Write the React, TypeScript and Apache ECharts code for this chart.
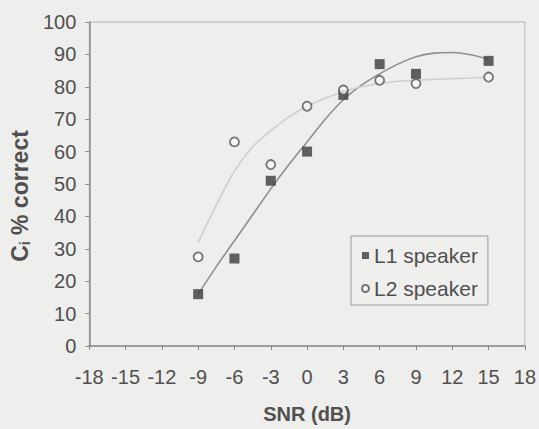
import React, { useEffect, useRef } from "react";
import * as echarts from "echarts";

const snrValues = [-9, -6, -3, 0, 3, 6, 9, 15];
const l1Values = [16, 27, 51, 60, 77.5, 87, 84, 88];
const l2Values = [27.5, 63, 56, 74, 79, 82, 81, 83];

const trendX = [-9, -7.5, -6, -4.5, -3, -1.5, 0, 1.5, 3, 4.5, 6, 7.5, 9, 10.5, 12, 13.5, 15];
const l1Trend = [16, 24.5, 32.5, 40.5, 48.5, 56, 63, 70, 76, 80.5, 84, 87, 89.3, 90.4, 90.6, 89.9, 88.5];
const l2Trend = [32, 43.5, 54, 61.5, 66.5, 70.7, 74, 76.5, 78.5, 80, 81, 81.7, 82, 82.3, 82.5, 82.7, 83];

const seriesNames = ["L1 speaker", "L2 speaker"];

const TEXT = "#505050";
const FONT = "Liberation Sans, Arial, sans-serif";

export default function App() {
  const ref = useRef<HTMLDivElement>(null);
  useEffect(() => {
    if (!ref.current) return;
    const chart = echarts.init(ref.current, undefined, { renderer: "svg" });
    const zip = (xs: number[], ys: number[]) => xs.map((x, i) => [x, ys[i]]);
    chart.setOption({
      animation: false,
      backgroundColor: "#eeeeec",
      textStyle: { fontFamily: FONT, color: TEXT },
      grid: {
        left: 86,
        right: 12,
        top: 22,
        bottom: 80,
        show: true,
        borderColor: "#b5b5b5",
        borderWidth: 1,
        backgroundColor: "transparent",
      },
      legend: {
        orient: "vertical",
        left: 351,
        top: 236,
        padding: [9, 10, 6, 10],
        itemGap: 12,
        itemWidth: 7,
        itemHeight: 7,
        itemTextGap: 6,
        borderColor: "#9a9a9a",
        borderWidth: 1,
        backgroundColor: "#efefed",
        textStyle: { fontSize: 21, color: TEXT, fontFamily: FONT },
        data: [
          { name: seriesNames[0], icon: "rect" },
          { name: seriesNames[1], icon: "circle" },
        ],
      },
      xAxis: {
        type: "value",
        min: -18,
        max: 18,
        interval: 3,
        name: "SNR (dB)",
        nameLocation: "middle",
        nameGap: 58,
        nameTextStyle: { fontSize: 20, fontWeight: "bold", color: TEXT, fontFamily: FONT },
        axisLine: { show: true, onZero: false, lineStyle: { color: "#8a8a8a", width: 1.5 } },
        axisTick: { show: true, length: 4, lineStyle: { color: "#8a8a8a" } },
        axisLabel: { fontSize: 20, margin: 21, color: TEXT, fontFamily: FONT },
        splitLine: { show: false },
      },
      yAxis: {
        type: "value",
        min: 0,
        max: 100,
        interval: 10,
        name: "{a|C}{b|i}{a| % correct}",
        nameLocation: "middle",
        nameGap: 56,
        nameTextStyle: {
          fontSize: 23,
          fontWeight: "bold",
          color: TEXT,
          fontFamily: FONT,
          padding: [0, 24, 0, 0],
          rich: {
            a: { fontSize: 23, fontWeight: "bold", color: TEXT, fontFamily: FONT },
            b: {
              fontSize: 14,
              fontWeight: "bold",
              color: TEXT,
              fontFamily: FONT,
              verticalAlign: "bottom",
              padding: [11, 0, 0, 0],
            },
          },
        },
        axisLine: { show: true, onZero: false, lineStyle: { color: "#8a8a8a", width: 1.5 } },
        axisTick: { show: true, length: 4, lineStyle: { color: "#8a8a8a" } },
        axisLabel: { fontSize: 20, margin: 13, color: TEXT, fontFamily: FONT },
        splitLine: { show: false },
      },
      series: [
        {
          name: "L1 trend",
          type: "line",
          data: zip(trendX, l1Trend),
          smooth: 0.25,
          showSymbol: false,
          symbol: "none",
          lineStyle: { color: "#8f8f8f", width: 1.6 },
          z: 2,
          silent: true,
        },
        {
          name: "L2 trend",
          type: "line",
          data: zip(trendX, l2Trend),
          smooth: 0.25,
          showSymbol: false,
          symbol: "none",
          lineStyle: { color: "#cfcfcf", width: 1.6 },
          z: 2,
          silent: true,
        },
        {
          name: seriesNames[0],
          type: "scatter",
          data: zip(snrValues, l1Values),
          symbol: "rect",
          symbolSize: 10,
          itemStyle: { color: "#3b3b3b" },
          z: 4,
        },
        {
          name: seriesNames[1],
          type: "scatter",
          data: zip(snrValues, l2Values),
          symbol: "circle",
          symbolSize: 9,
          itemStyle: { color: "#f7f7f7", borderColor: "#555555", borderWidth: 1.8 },
          z: 5,
        },
      ],
    });
    return () => chart.dispose();
  }, []);
  return (
    <div
      ref={ref}
      style={{ position: "fixed", left: 0, top: 0, width: 539, height: 429 }}
    />
  );
}
